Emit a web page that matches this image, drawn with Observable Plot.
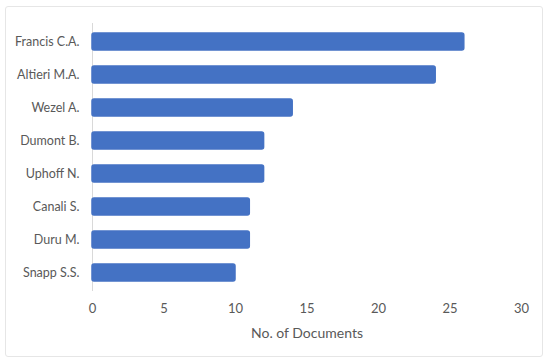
<!DOCTYPE html>
<html>
<head>
<meta charset="utf-8">
<script src="https://cdn.jsdelivr.net/npm/d3@7"></script>
<script src="https://cdn.jsdelivr.net/npm/@observablehq/plot@0.6"></script>
<style>
  body { margin: 0; background: #fff; }
  #wrap { position: relative; width: 550px; height: 364px; }
  #frame { position: absolute; left: 5px; top: 6px; width: 538px; height: 351px; border: 1px solid #e6e6e6; border-radius: 3px; box-sizing: border-box; }
  #wrap svg { position: absolute; left: 0; top: 0; }
</style>
</head>
<body>
<div id="wrap"><div id="frame"></div></div>
<script>
const authors = ["Francis C.A.", "Altieri M.A.", "Wezel A.", "Dumont B.", "Uphoff N.", "Canali S.", "Duru M.", "Snapp S.S."];
const documents = [26, 24, 14, 12, 12, 11, 11, 10];
const xTicks = [0, 5, 10, 15, 20, 25, 30];
const xLabel = "No. of Documents";

const data = authors.map((a, i) => ({author: a, docs: documents[i]}));

const chart = Plot.plot({
  width: 550,
  height: 364,
  marginLeft: 92,
  marginRight: 29,
  marginTop: 23,
  marginBottom: 73,
  style: {fontFamily: "Lato, 'Open Sans', sans-serif", fontSize: "13px", color: "#595959", background: "transparent"},
  x: {domain: [0, 30]},
  y: {domain: authors, paddingInner: 0.48, paddingOuter: 0.24},
  marks: [
    Plot.ruleX([0], {stroke: "#d9d9d9"}),
    Plot.barX(data, {x: "docs", y: "author", fill: "#4472C4", stroke: "#4472C4", strokeWidth: 1.5, rx: 2}),
    Plot.axisX({ticks: xTicks, tickSize: 0, tickPadding: 12, tickFormat: d => d, label: null, fontSize: 13}),
    Plot.axisX({ticks: [], tickSize: 0, label: xLabel, labelAnchor: "center", labelArrow: "none", labelOffset: 46, fontSize: 14}),
    Plot.axisY({tickSize: 0, tickPadding: 13, label: null, fontSize: 12.5})
  ]
});
document.getElementById("wrap").appendChild(chart);
</script>
</body>
</html>
